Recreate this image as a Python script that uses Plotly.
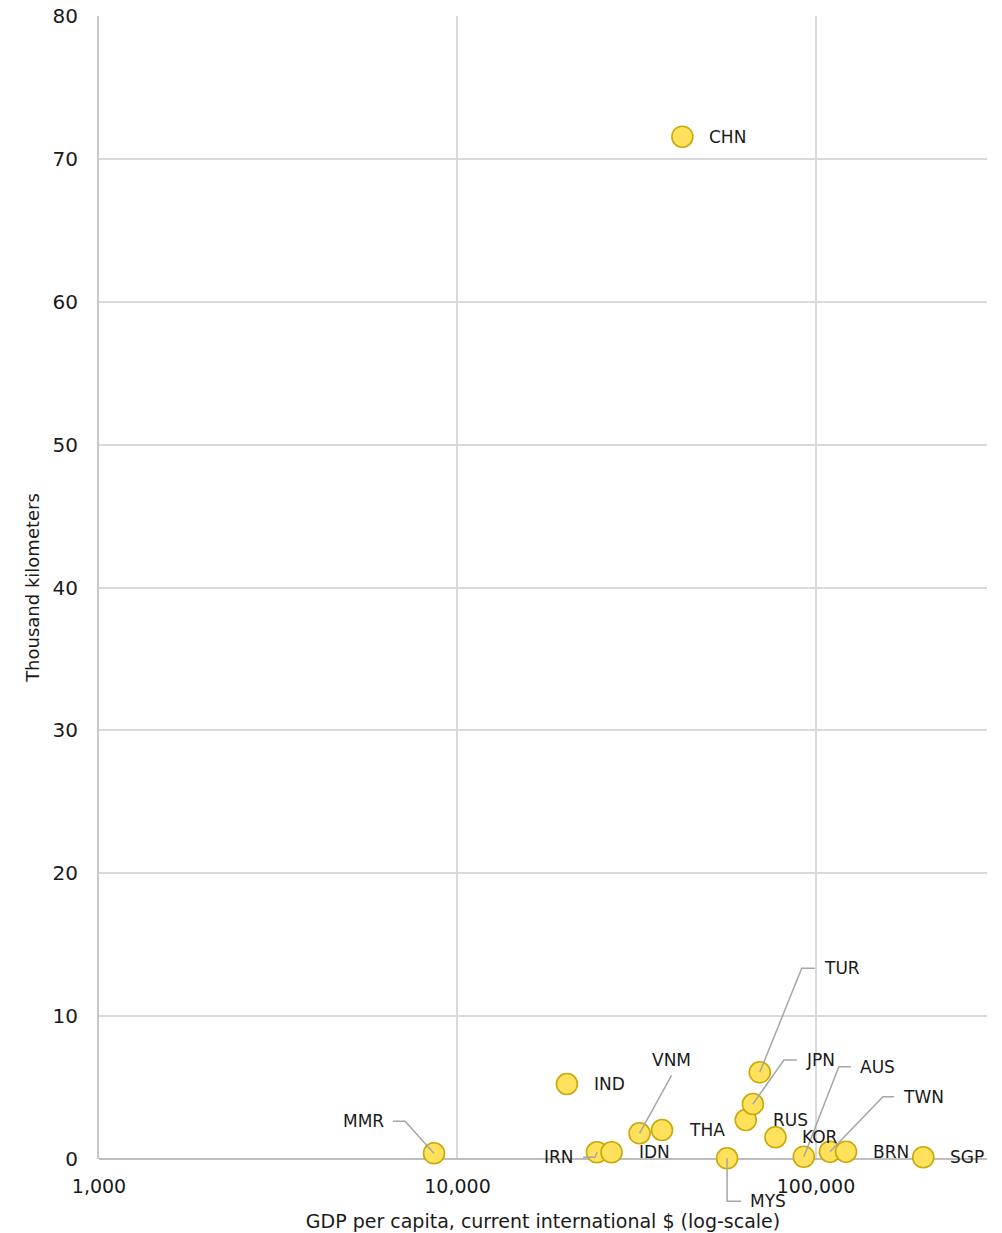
import numpy as np
import plotly.graph_objects as go

# ---- data ----
countries = ["CHN", "IND", "MMR", "IRN", "IDN", "VNM", "THA", "MYS",
             "RUS", "JPN", "TUR", "KOR", "AUS", "TWN", "BRN", "SGP"]
gdp_per_capita = [42400, 20200, 8600, 24500, 26900, 32200, 37200, 56500,
                  63700, 66700, 69700, 77100, 92500, 109400, 121300, 199200]
thousand_km = [71.55, 5.25, 0.40, 0.47, 0.47, 1.80, 2.03, 0.05,
               2.73, 3.85, 6.07, 1.52, 0.16, 0.51, 0.51, 0.12]

x_tickvals = [1000, 10000, 100000]
x_ticktext = ["1,000", "10,000", "100,000"]
y_tickvals = [0, 10, 20, 30, 40, 50, 60, 70, 80]

# ---- layout geometry ----
W, H = 1002, 1233
ML, MR, MT, MB = 99, 15, 16, 74
x_range = [3, np.log10(300000)]
y_range = [0, 80]
PW, PH = W - ML - MR, H - MT - MB

def to_paper(gx, yv):
    return ((np.log10(gx) - x_range[0]) / (x_range[1] - x_range[0]),
            (yv - y_range[0]) / (y_range[1] - y_range[0]))

# label placement (pixel offsets, dy positive = up): (dx1, dy1, dx2, mode)
leaders = {
    "TUR": (42, 104, 13, "left"),
    "JPN": (31, 44, 13, "left"),
    "AUS": (35, 90, 12, "left"),
    "TWN": (53, 55, 11, "left"),
    "MMR": (-29, 32, -12, "right"),
    "IRN": (-2, -5, -12, "right"),
    "MYS": (0, -43, 14, "left"),
    "VNM": (32, 58, 0, "above"),
}

line_col = "#a6a6a6"
font_fam = "'DejaVu Sans', sans-serif"
lab_font = dict(family=font_fam, size=17, color="#1a1a1a")

fig = go.Figure()
fig.add_trace(go.Scatter(
    x=gdp_per_capita, y=thousand_km, mode="markers", cliponaxis=False,
    marker=dict(size=21, color="#FFE15B", line=dict(color="#C9A80A", width=1.6)),
    hoverinfo="text", text=countries, showlegend=False,
))

annotations = []
shapes = []
for c, gx, yv in zip(countries, gdp_per_capita, thousand_km):
    px, py = to_paper(gx, yv)
    if c in leaders:
        dx1, dy1, dx2, mode = leaders[c]
        ex, ey = px + dx1 / PW, py + dy1 / PH
        fx = ex + dx2 / PW
        shapes.append(dict(type="path", xref="paper", yref="paper", layer="above",
                           path=f"M {px} {py} L {ex} {ey} L {fx} {ey}",
                           line=dict(color=line_col, width=1.5)))
        if mode == "left":
            annotations.append(dict(x=fx, y=ey, xref="paper", yref="paper", text=c, showarrow=False,
                                    xanchor="left", yanchor="middle", xshift=7, font=lab_font))
        elif mode == "right":
            annotations.append(dict(x=fx, y=ey, xref="paper", yref="paper", text=c, showarrow=False,
                                    xanchor="right", yanchor="middle", xshift=-7, font=lab_font))
        else:
            annotations.append(dict(x=fx, y=ey, xref="paper", yref="paper", text=c, showarrow=False,
                                    xanchor="center", yanchor="middle", yshift=15, font=lab_font))
    else:
        annotations.append(dict(x=px, y=py, xref="paper", yref="paper", text=c, showarrow=False,
                                xanchor="left", yanchor="middle", xshift=25, font=lab_font))

fig.update_layout(
    width=W, height=H,
    margin=dict(l=ML, r=MR, t=MT, b=MB, autoexpand=False),
    plot_bgcolor="white", paper_bgcolor="white",
    font=dict(family=font_fam, size=19, color="#1a1a1a"),
    annotations=annotations, shapes=shapes,
    xaxis=dict(
        type="log", range=x_range, tickvals=x_tickvals, ticktext=x_ticktext,
        showgrid=True, gridcolor="#d9d9d9", gridwidth=1.5, automargin=False,
        showline=False, zeroline=False, ticks="", ticklabelstandoff=14,
        tickfont=dict(size=19),
        title=dict(text="GDP per capita, current international $ (log-scale)",
                   font=dict(size=19), standoff=18),
    ),
    yaxis=dict(
        range=y_range, tickvals=y_tickvals, automargin=False,
        showgrid=True, gridcolor="#d9d9d9", gridwidth=1.5,
        showline=True, linecolor="#c8c8c8", linewidth=2,
        zeroline=True, zerolinecolor="#bdbdbd", zerolinewidth=2,
        ticks="", ticklabelstandoff=15, tickfont=dict(size=20),
        title=dict(text="Thousand kilometers", font=dict(size=18), standoff=8),
    ),
)

fig.write_html("out.html")
